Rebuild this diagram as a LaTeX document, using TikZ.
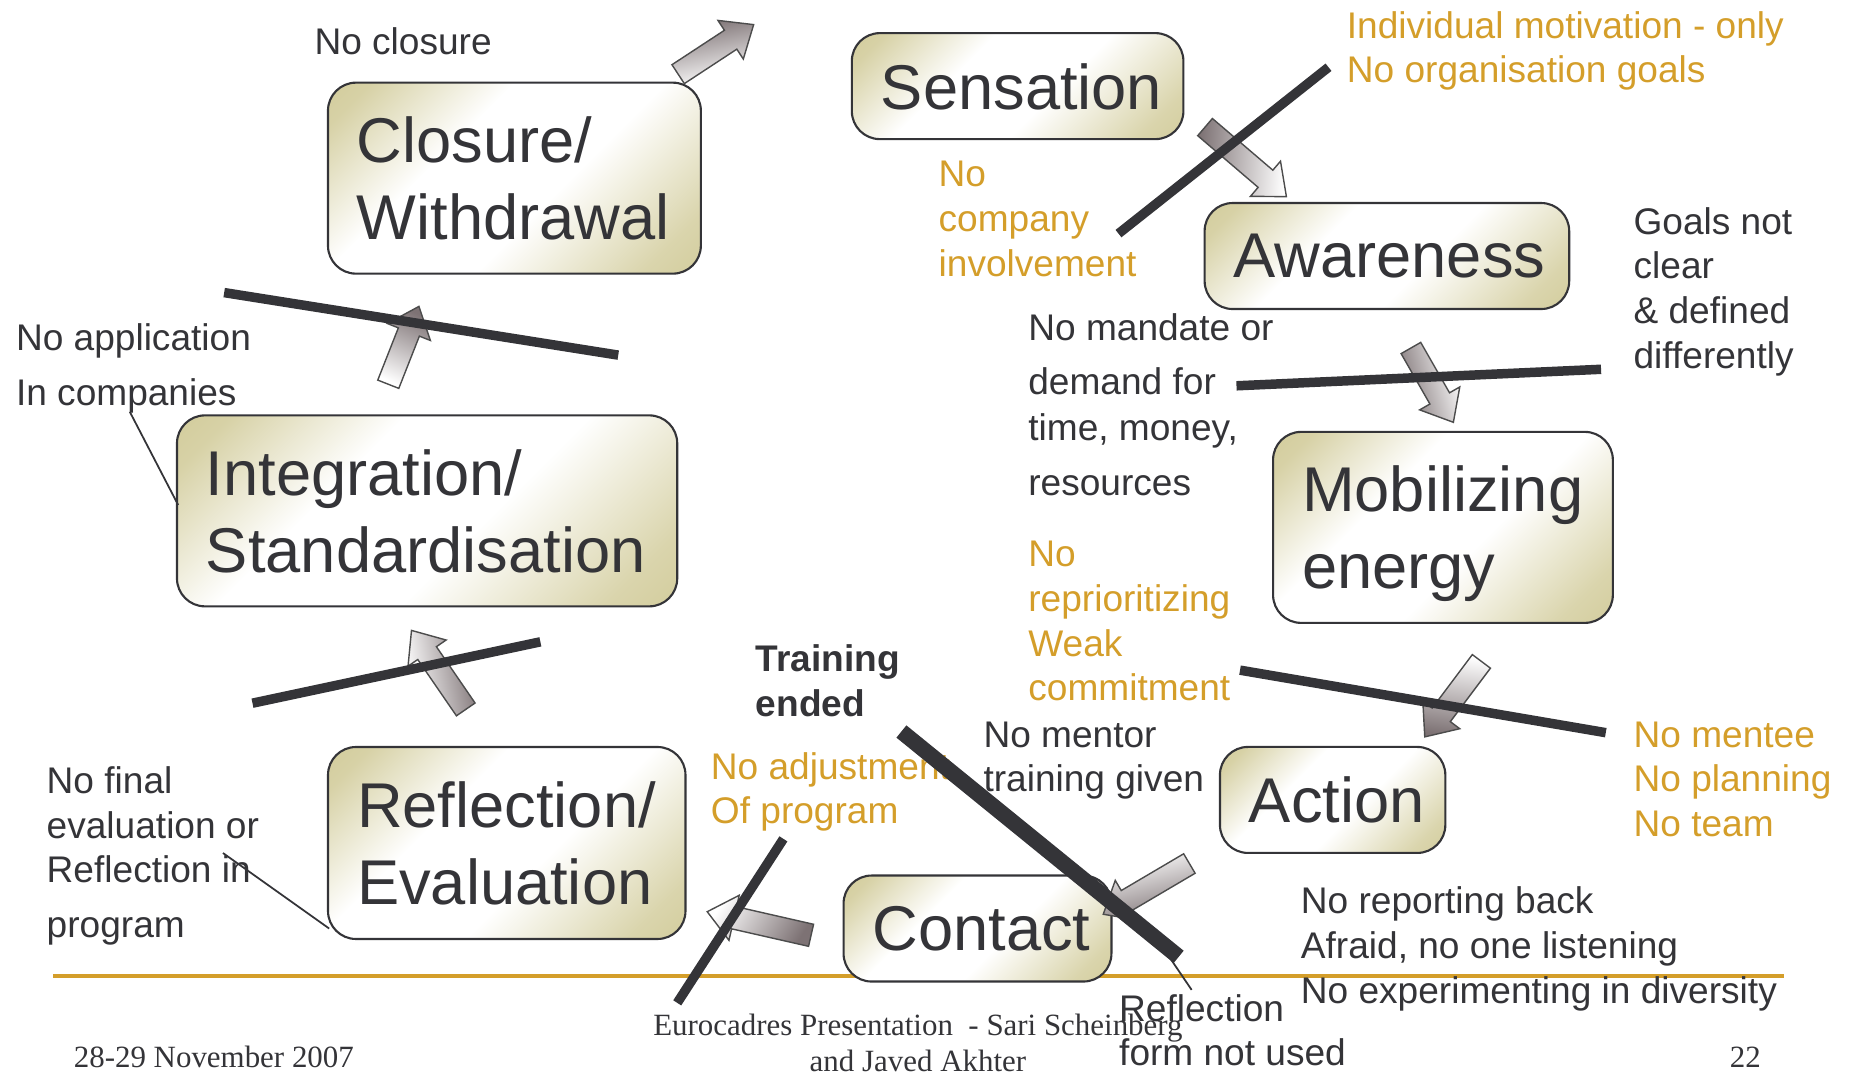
\documentclass[tikz,border=0pt]{standalone}
\usepackage{fontspec}
\setmainfont{Liberation Sans}
\newfontfamily\footserif{Liberation Serif}
\usetikzlibrary{shapes.arrows,calc}

\definecolor{textgray}{RGB}{52,52,56}
\definecolor{gold}{RGB}{212,158,42}
\definecolor{boxkhaki}{RGB}{198,190,128}
\definecolor{arrowgray}{RGB}{125,114,116}

\pgfdeclarehorizontalshading{stagefill}{100bp}{color(0bp)=(boxkhaki); color(20bp)=(boxkhaki!70!white);
	color(38bp)=(white); color(57bp)=(white); color(78bp)=(boxkhaki!65!white); color(100bp)=(boxkhaki)}

\tikzset{
	stage/.style={draw=textgray, line width=0.6pt, rounded corners=2.8mm,
		shade, shading=stagefill, shading angle=-45,
		align=left, inner xsep=2.9mm, inner ysep=0pt, text depth=0pt, text=textgray,
		font=\fontsize{18}{21.8}\selectfont, execute at begin node={\hyphenpenalty10000\relax}},
	twoline/.style={text depth=21.8pt},
	note/.style={anchor=north west, inner sep=0pt, align=left, text=textgray,
		font=\fontsize{10.55}{12.75}\selectfont},
	warn/.style={note, text=gold},
	foot/.style={inner sep=0pt, text=textgray, font=\footserif\fontsize{8.8}{10.1}\selectfont},
	fatarrow/.style={single arrow, draw=gray!60!black, line width=0.4pt,
		top color=arrowgray, bottom color=white, inner xsep=0pt, inner ysep=1.06mm,
		single arrow head extend=1.18mm, single arrow tip angle=80},
	strike/.style={draw=textgray, line width=2.7pt},
	leader/.style={draw=textgray, line width=0.5pt}
}

% block arrow from tail #1 to tip #2
\newcommand\fatarrow[2]{%
	\path let \p1=(#1), \p2=(#2), \n1={atan2(\y2-\y1,\x2-\x1)},
		\n2={veclen(\x2-\x1,\y2-\y1)}, \n3={45-\n1} in
		node[fatarrow, minimum height=\n2, rotate=\n1, shading angle=\n3] at ($(#1)!0.5!(#2)$) {};}

\begin{document}
\begin{tikzpicture}[x=0.118mm,y=-0.118mm]
	\useasboundingbox (0,0) rectangle (1568,909);
	\draw[gold, line width=1.15pt] (45,827) -- (1512,827);

	% stages
	\node[stage, twoline, text width=31.49mm, minimum height=19.1mm] (closure) at (436,151) {Closure/\\Withdrawal};
	\node[stage, text width=27.36mm, minimum height=10.6mm] (sensation) at (862.5,73) {Sensation};
	\node[stage, text width=30.66mm, minimum height=10.6mm] (awareness) at (1175.5,217) {Awareness};
	\node[stage, twoline, text width=28.18mm, minimum height=19.1mm] (mobilizing) at (1223,447) {Mobilizing\\energy};
	\node[stage, text width=16.74mm, minimum height=10.6mm] (action) at (1129.5,678) {Action};
	\node[stage, text width=20.99mm, minimum height=10.6mm] (contact) at (828.5,787) {Contact};
	\node[stage, twoline, text width=29.95mm, minimum height=19.2mm] (reflection) at (429.5,714.5) {Reflection/\\Evaluation};
	\node[stage, twoline, text width=44.23mm, minimum height=19.1mm] (integration) at (362,433) {Integration/\\Standardisation};

	% arrows between stages
	\coordinate (exit-t) at (570,66);   \coordinate (exit-h) at (634,24);
	\coordinate (sa-t) at (1017,104);   \coordinate (sa-h) at (1086,163);
	\coordinate (am-t) at (1193,290);   \coordinate (am-h) at (1229,353);
	\coordinate (ma-t) at (1259,556);   \coordinate (ma-h) at (1211,620);
	\coordinate (ac-t) at (1013,729);   \coordinate (ac-h) at (940,772);
	\coordinate (cr-t) at (693,794);    \coordinate (cr-h) at (605,774);
	\coordinate (ri-t) at (398,606);    \coordinate (ri-h) at (352,539);
	\coordinate (ic-t) at (327,331);    \coordinate (ic-h) at (353,265);
	\fatarrow{exit-t}{exit-h}
	\fatarrow{sa-t}{sa-h}
	\fatarrow{am-t}{am-h}
	\fatarrow{ma-t}{ma-h}
	\fatarrow{ac-t}{ac-h}
	\fatarrow{cr-t}{cr-h}
	\fatarrow{ri-t}{ri-h}
	\fatarrow{ic-t}{ic-h}

	% barriers
	\node[note] (noclosure) at (266,23) {No closure};
	\node[warn] (individual) at (1141,9) {Individual motivation - only\\No organisation goals};
	\node[warn] (nocompany) at (795,136) {No\\company\\involvement};
	\node[note] (goals) at (1384,175) {Goals not\\clear\\\& defined\\differently};
	\node[note] (mandate) at (871,265) {No mandate or\\[2.7pt]demand for\\[0.4pt]time, money,\\[2.7pt]resources};
	\node[warn] (reprior) at (871,458) {No\\reprioritizing\\Weak\\commitment};
	\node[note] (noapp) at (13,274) {No application\\[2.7pt]In companies};
	\node[note, font=\fontsize{10.55}{12.75}\selectfont\bfseries] (training) at (640,546) {Training\\ended};
	\node[warn] (noadjust) at (602,637) {No adjustment\\Of program};
	\node[note] (nomentor) at (833,611) {No mentor\\training given};
	\node[warn] (nomentee) at (1384,611) {No mentee\\No planning\\No team};
	\node[note] (nofinal) at (39,649) {No final\\evaluation or\\Reflection in\\[2.7pt]program};
	\node[note] (noreport) at (1102,751) {No reporting back\\Afraid, no one listening\\No experimenting in diversity};
	\node[note] (reflform) at (948,842) {Reflection\\form not used};

	% footer
	\node[foot, anchor=base west] (date) at (62,905) {28-29 November 2007};
	\node[foot, anchor=north, align=center] (authors) at (778,859) {Eurocadres Presentation~ - Sari Scheinberg\\and Javed Akhter};
	\node[foot, anchor=base east] (page) at (1493,905) {22};

	% strike-through bars
	\draw[strike] (948,198) -- (1126,57);
	\draw[strike] (190,248) -- (524,301);
	\draw[strike] (1048,327) -- (1357,313);
	\draw[strike] (1051,568) -- (1361,621);
	\draw[strike] (214,596) -- (458,544);
	\draw[strike, line width=4.5pt] (764,620) -- (999,811);
	\draw[strike] (664,711) -- (574,850);

	% leaders
	\coordinate (noapp-end) at (110,349);   \coordinate (integ-end) at (151,428);
	\coordinate (nofinal-end) at (189,723); \coordinate (refl-end) at (279,787);
	\coordinate (bar-end) at (991,811);     \coordinate (form-end) at (1010,839);
	\draw[leader] (noapp-end) -- (integ-end);
	\draw[leader] (nofinal-end) -- (refl-end);
	\draw[leader] (bar-end) -- (form-end);
\end{tikzpicture}
\end{document}
